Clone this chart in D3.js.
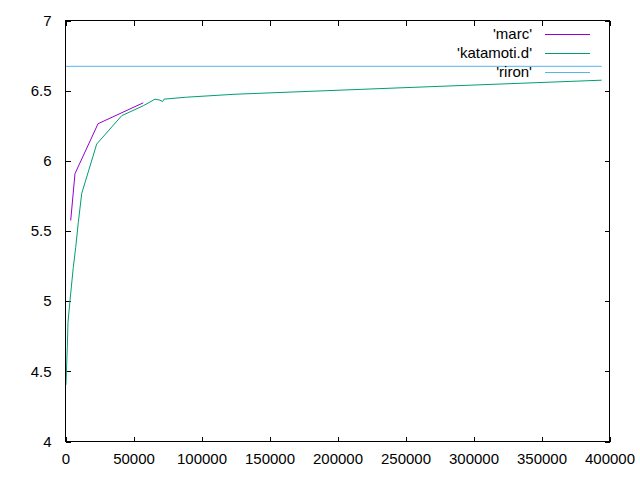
<!DOCTYPE html>
<html>
<head>
<meta charset="utf-8">
<script src="https://cdn.jsdelivr.net/npm/d3@7"></script>
<style>
  html, body { margin: 0; padding: 0; background: #fff; }
  svg { display: block; }
  text { font-family: "Liberation Sans", Arial, sans-serif; font-size: 15px; fill: #000; }
</style>
</head>
<body>
<svg id="chart" width="640" height="480"></svg>
<script>
// ---- data ----
const seriesNames = ["'marc'", "'katamoti.d'", "'riron'"];
const seriesColors = ["#9400d3", "#009e73", "#56b4e9"];

const marcX = [4190, 7350, 24300, 57570];
const marcY = [5.571, 5.905, 6.261, 6.410];

const katamotiX = [700, 1690, 2210, 3680, 6100, 7870, 9780, 12280, 23300, 41690, 57570, 66180, 69850, 71840, 72800, 89490, 125000, 250000, 394600];
const katamotiY = [4.40, 4.668, 4.846, 5.002, 5.237, 5.379, 5.557, 5.763, 6.116, 6.318, 6.389, 6.436, 6.429, 6.419, 6.436, 6.450, 6.471, 6.518, 6.571];

const rironX = [0, 394600];
const rironY = [6.67, 6.67];

const xTicks = [0, 50000, 100000, 150000, 200000, 250000, 300000, 350000, 400000];
const xTickLabels = ["0", "50000", "100000", "150000", "200000", "250000", "300000", "350000", "400000"];
const yTicks = [4, 4.5, 5, 5.5, 6, 6.5, 7];
const yTickLabels = ["4", "4.5", "5", "5.5", "6", "6.5", "7"];

// ---- layout ----
const L = 65, R = 609, T = 20, B = 441;
const svg = d3.select("#chart");
const x = d3.scaleLinear().domain([0, 400000]).range([L, R]);
const y = d3.scaleLinear().domain([4, 7]).range([B, T]);

const series = [
  { xs: marcX, ys: marcY },
  { xs: katamotiX, ys: katamotiY },
  { xs: rironX, ys: rironY }
];

// axes (inward ticks on all sides)
const tk = 5;
const gBottom = svg.append("g").attr("transform", `translate(0.5,${B + 0.5})`)
  .call(d3.axisBottom(x).tickValues(xTicks).tickSize(-tk).tickPadding(12)
    .tickFormat((d, i) => xTickLabels[i]));
const gTop = svg.append("g").attr("transform", `translate(0.5,${T + 0.5})`)
  .call(d3.axisTop(x).tickValues(xTicks).tickSize(-tk).tickFormat(""));
const gLeft = svg.append("g").attr("transform", `translate(${L + 0.5},0.5)`)
  .call(d3.axisLeft(y).tickValues(yTicks).tickSize(-tk).tickPadding(14)
    .tickFormat((d, i) => yTickLabels[i]));
const gRight = svg.append("g").attr("transform", `translate(${R + 0.5},0.5)`)
  .call(d3.axisRight(y).tickValues(yTicks).tickSize(-tk).tickFormat(""));

[gBottom, gTop, gLeft, gRight].forEach(g => {
  g.select(".domain").remove();
  g.selectAll("line").attr("stroke", "#000").attr("shape-rendering", "crispEdges");
  g.selectAll("text").attr("font-family", null).attr("font-size", null).attr("fill", "#000");
});

// data lines
const line = d3.line().x(d => x(d[0])).y(d => y(d[1]));
series.forEach((s, i) => {
  const pts = s.xs.map((v, j) => [v, s.ys[j]]);
  svg.append("path")
    .attr("d", line(pts))
    .attr("fill", "none")
    .attr("stroke", seriesColors[i])
    .attr("stroke-width", 1);
});

// frame
svg.append("rect")
  .attr("x", L + 0.5).attr("y", T + 0.5)
  .attr("width", R - L).attr("height", B - T)
  .attr("fill", "none").attr("stroke", "#000").attr("stroke-width", 1)
  .attr("shape-rendering", "crispEdges");

// legend
const legend = svg.append("g");
seriesNames.forEach((name, i) => {
  const ly = 34 + i * 19;
  legend.append("text")
    .attr("x", 532).attr("y", ly)
    .attr("text-anchor", "end")
    .attr("dy", "0.35em")
    .text(name);
  legend.append("line")
    .attr("x1", 545).attr("x2", 590)
    .attr("y1", ly + 0.5).attr("y2", ly + 0.5)
    .attr("stroke", seriesColors[i]).attr("stroke-width", 1)
    .attr("shape-rendering", "crispEdges");
});
</script>
</body>
</html>
